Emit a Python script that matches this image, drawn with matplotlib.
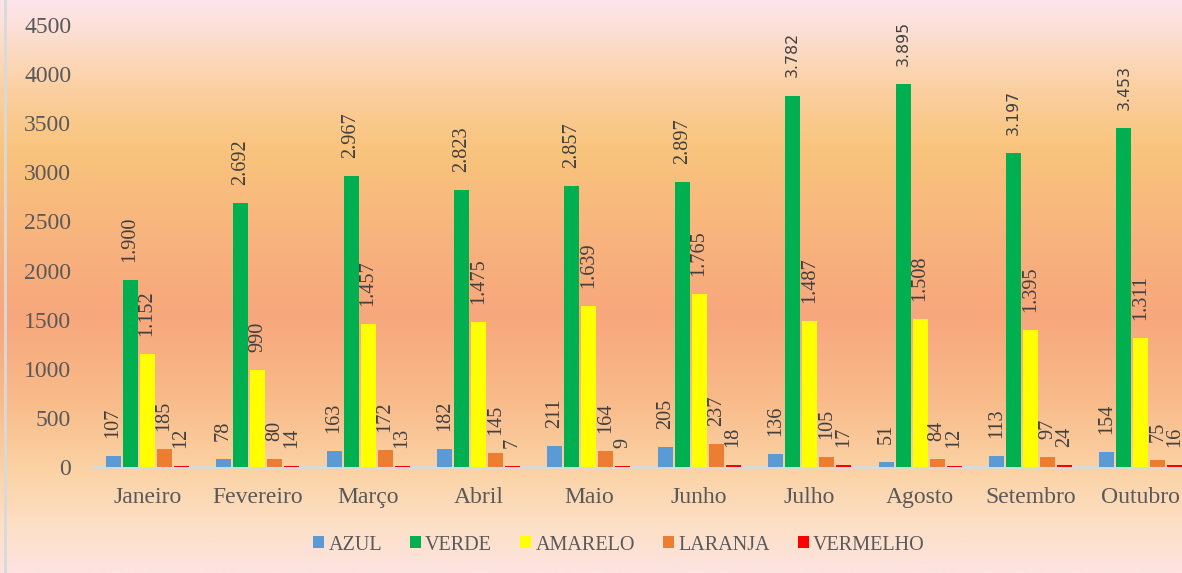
import numpy as np
import matplotlib
matplotlib.use("Agg")
import matplotlib.pyplot as plt
from matplotlib.colors import LinearSegmentedColormap
from matplotlib.lines import Line2D

months = ["Janeiro", "Fevereiro", "Março", "Abril", "Maio", "Junho",
          "Julho", "Agosto", "Setembro", "Outubro"]
series_names = ["AZUL", "VERDE", "AMARELO", "LARANJA", "VERMELHO"]
azul = [107, 78, 163, 182, 211, 205, 136, 51, 113, 154]
verde = [1900, 2692, 2967, 2823, 2857, 2897, 3782, 3895, 3197, 3453]
amarelo = [1152, 990, 1457, 1475, 1639, 1765, 1487, 1508, 1395, 1311]
laranja = [185, 80, 172, 145, 164, 237, 105, 84, 97, 75]
vermelho = [12, 14, 13, 7, 9, 18, 17, 12, 24, 16]
yticks = [0, 500, 1000, 1500, 2000, 2500, 3000, 3500, 4000, 4500]

series = [azul, verde, amarelo, laranja, vermelho]
colors = ["#5b9bd5", "#00b050", "#ffff00", "#ed7d31", "#ff0000"]

plt.rcParams["font.family"] = ["Liberation Serif", "DejaVu Serif"]

W, H = 1182, 573
fig = plt.figure(figsize=(W / 100, H / 100), dpi=100)

# gradient background
stops = [(0.00, "#fde4ec"), (0.05, "#fce0d6"), (0.15, "#fbd0a2"),
         (0.26, "#f9c47c"), (0.40, "#f8b57e"), (0.55, "#f7a77c"),
         (0.70, "#f9bb8a"), (0.82, "#fbd2a4"), (0.92, "#fde0c6"),
         (1.00, "#fde3e1")]
cmap = LinearSegmentedColormap.from_list("bg", stops)
bg = fig.add_axes([0, 0, 1, 1], zorder=-10)
grad = np.linspace(0, 1, 512).reshape(-1, 1)
bg.imshow(grad, aspect="auto", cmap=cmap, extent=[0, 1, 0, 1], origin="upper")
bg.axis("off")
fig.add_artist(Line2D([5 / W, 5 / W], [0, 1], transform=fig.transFigure,
                      color="#d9d9d9", lw=2))

left = 92 / W
width = 1104 / W
bottom = (H - 467) / H
top = (H - 25) / H
ax = fig.add_axes([left, bottom, width, top - bottom])
ax.set_facecolor("none")

x = np.arange(len(months))
slot = 17 / 110.4
bw = 15 / 110.4
n = len(series)
for i, (name, vals, c) in enumerate(zip(series_names, series, colors)):
    pos = x + (i - (n - 1) / 2) * slot
    ax.bar(pos, vals, width=bw, color=c, label=name, zorder=3)
    for xp, v in zip(pos, vals):
        txt = f"{v:,}".replace(",", ".")
        if v >= 3000:
            kw = dict(fontsize=11.3, family="DejaVu Sans")
        else:
            kw = dict(fontsize=14.6)
        ax.annotate(txt, (xp, v), xytext=(0, 13),
                    textcoords="offset points", rotation=90, ha="center",
                    va="bottom", color="#404040",
                    annotation_clip=False, **kw)

ax.set_xlim(-0.5, len(months) - 0.5)
ax.set_ylim(0, 4500)
ax.set_yticks(yticks)
ax.set_yticklabels([str(t) for t in yticks])
ax.set_xticks(x)
ax.set_xticklabels(months)
ax.tick_params(axis="y", length=0, pad=15, labelsize=17, labelcolor="#595959")
ax.tick_params(axis="x", length=0, pad=14.5, labelsize=17, labelcolor="#595959")
for s in ["left", "right", "top"]:
    ax.spines[s].set_visible(False)
ax.spines["bottom"].set_color("#d9d9d9")
ax.spines["bottom"].set_linewidth(2)
ax.spines["bottom"].set_zorder(2)

leg = fig.legend(loc="center", bbox_to_anchor=(619 / W, (H - 545) / H),
                 ncol=5, frameon=False, fontsize=14.5, handlelength=0.55,
                 handleheight=0.55, handletextpad=0.2, columnspacing=1.4,
                 labelcolor="#595959")

fig.savefig("out.png", dpi=100)
